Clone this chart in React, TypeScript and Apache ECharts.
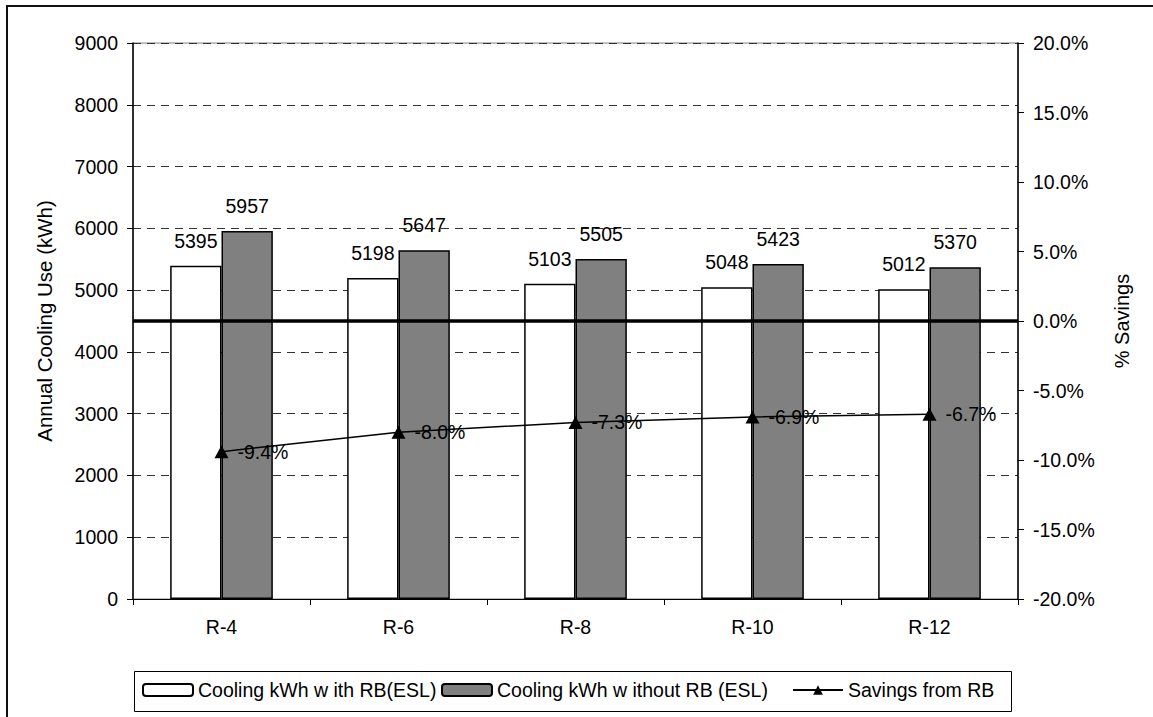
import React, { useEffect, useRef } from "react";
import * as echarts from "echarts";

// Insulation levels along the category axis
const categories = ["R-4", "R-6", "R-8", "R-10", "R-12"];
// Annual cooling energy (kWh)
const withRB = [5395, 5198, 5103, 5048, 5012];
const withoutRB = [5957, 5647, 5505, 5423, 5370];
// Savings from the radiant barrier (%)
const savings = [-9.4, -8.0, -7.3, -6.9, -6.7];

const seriesNames = [
  "Cooling kWh w ith RB(ESL)",
  "Cooling kWh w ithout RB (ESL)",
  "Savings from RB",
];
// Left edge of each legend entry inside the legend box
const legendItemLeft = [142, 441, 792];

const FONT = "'Liberation Sans', Arial, sans-serif";

export default function App() {
  const ref = useRef<HTMLDivElement>(null);

  useEffect(() => {
    if (!ref.current) return;
    const chart = echarts.init(ref.current, null, { renderer: "svg" });
    const txt = { color: "#000", fontFamily: FONT, fontSize: 19.5 };
    chart.setOption({
      animation: false,
      backgroundColor: "#fff",
      textStyle: { fontFamily: FONT },
      graphic: [
        {
          type: "rect",
          shape: { x: 7, y: 6, width: 1170, height: 730 },
          style: { fill: "none", stroke: "#111", lineWidth: 2 },
          silent: true,
        },
        {
          // frame around the legend entries
          type: "rect",
          shape: { x: 134.5, y: 671.5, width: 877, height: 40 },
          style: { fill: "none", stroke: "#000", lineWidth: 1 },
          silent: true,
        },
      ],
      grid: {
        left: 133,
        right: 135,
        top: 43,
        bottom: 118,
        show: true,
        borderColor: "#808080",
        borderWidth: 1,
        backgroundColor: "transparent",
      },
      legend: seriesNames.map((name, i) => ({
        left: legendItemLeft[i],
        top: 680,
        padding: 0,
        itemWidth: 50,
        itemHeight: 12,
        textStyle: { ...txt },
        data: [name],
      })),
      xAxis: {
        type: "category",
        data: categories,
        axisLine: { lineStyle: { color: "#000", width: 1 } },
        axisTick: { show: true, length: 6, alignWithLabel: false, lineStyle: { color: "#000" } },
        axisLabel: { ...txt, margin: 18 },
        splitLine: { show: false },
      },
      yAxis: [
        {
          type: "value",
          min: 0,
          max: 9000,
          interval: 1000,
          name: "Annual Cooling Use (kWh)",
          nameLocation: "middle",
          nameGap: 78,
          nameTextStyle: { ...txt, fontSize: 20.5 },
          axisLine: { show: true, lineStyle: { color: "#000", width: 1.5 } },
          axisTick: { show: true, length: 6, lineStyle: { color: "#000" } },
          axisLabel: { ...txt, margin: 15, formatter: (v: number) => String(v) },
          splitLine: {
            show: true,
            lineStyle: { color: "#333", type: [8, 6], width: 1 },
          },
        },
        {
          type: "value",
          min: -20,
          max: 20,
          interval: 5,
          position: "right",
          name: "% Savings",
          nameLocation: "middle",
          nameGap: 94,
          nameTextStyle: { ...txt, fontSize: 20 },
          axisLine: { show: true, lineStyle: { color: "#000", width: 1.5 } },
          axisTick: { show: true, length: 6, lineStyle: { color: "#000" } },
          axisLabel: {
            ...txt,
            margin: 15,
            formatter: (v: number) => v.toFixed(1) + "%",
          },
          splitLine: { show: false },
        },
      ],
      series: [
        {
          name: seriesNames[0],
          type: "bar",
          data: withRB,
          barGap: "0%",
          barCategoryGap: "42%",
          itemStyle: { color: "#fff", borderColor: "#000", borderWidth: 1.5 },
          label: { show: true, position: "top", distance: 15, ...txt },
        },
        {
          name: seriesNames[1],
          type: "bar",
          data: withoutRB,
          itemStyle: { color: "#808080", borderColor: "#000", borderWidth: 1.5 },
          label: { show: true, position: "top", distance: 15, ...txt },
        },
        {
          name: seriesNames[2],
          type: "line",
          yAxisIndex: 1,
          data: savings,
          symbol: "triangle",
          symbolSize: [14, 13],
          itemStyle: { color: "#000" },
          lineStyle: { color: "#000", width: 1.5 },
          label: {
            show: true,
            position: "right",
            distance: 9,
            ...txt,
            formatter: (p: any) => Number(p.value).toFixed(1) + "%",
          },
          markLine: {
            silent: true,
            symbol: "none",
            label: { show: false },
            lineStyle: { color: "#000", width: 3.5, type: "solid" },
            data: [{ yAxis: 0 }],
          },
          z: 5,
        },
      ],
    });
    return () => chart.dispose();
  }, []);

  return (
    <div
      ref={ref}
      style={{ position: "absolute", left: 0, top: 0, width: 1153, height: 717 }}
    />
  );
}
